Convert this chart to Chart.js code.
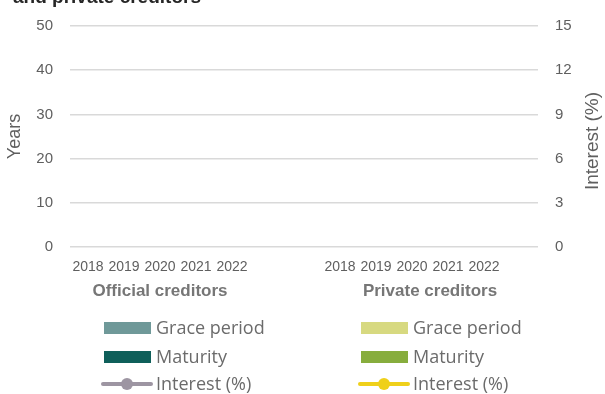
<!DOCTYPE html>
<html>
<head>
<meta charset="utf-8">
<script src="https://cdn.jsdelivr.net/npm/chart.js@4/dist/chart.umd.min.js"></script>
<style>
  html, body { margin: 0; padding: 0; background: #fff; }
  #wrap { position: relative; width: 605px; height: 394px; }
</style>
</head>
<body>
<div id="wrap"><canvas id="chart"></canvas></div>
<script>
// categories: two groups of years, blank slots keep the gap between them
const categories = ['2018', '2019', '2020', '2021', '2022', '', '', '2018', '2019', '2020', '2021', '2022', ''];
const groupNames = ['Official creditors', 'Private creditors'];
const groupSpans = [[0, 4], [7, 12]];

// nothing is plotted in the reference, so every value is empty
const officialGrace = [null, null, null, null, null];
const officialMaturity = [null, null, null, null, null];
const officialInterest = [null, null, null, null, null];
const privateGrace = [null, null, null, null, null];
const privateMaturity = [null, null, null, null, null];
const privateInterest = [null, null, null, null, null];

const yearTicks = [0, 10, 20, 30, 40, 50];
const interestTicks = [0, 3, 6, 9, 12, 15];

const titleText = 'and private creditors';
const leftAxisTitle = 'Years';
const rightAxisTitle = 'Interest (%)';

const gap = [null, null];
const tail = [null];
const blank5 = [null, null, null, null, null];
function official(arr) { return arr.concat(gap, blank5, tail); }
function privateSeries(arr) { return blank5.concat(gap, arr, tail); }

const textGray = '#5f5f5f';

// draws the cut-off title, group labels, right axis title and the two-column legend
const extrasPlugin = {
    id: 'extras',
    afterDraw(chart) {
        const ctx = chart.ctx;
        const x = chart.scales.x;
        ctx.save();

        ctx.fillStyle = '#262626';
        ctx.font = 'bold 19px "Liberation Sans", Arial, sans-serif';
        ctx.textAlign = 'left';
        ctx.textBaseline = 'alphabetic';
        ctx.fillText(titleText, 13, 3);

        ctx.fillStyle = '#767676';
        ctx.font = 'bold 17px "Liberation Sans", Arial, sans-serif';
        ctx.textAlign = 'center';
        ctx.textBaseline = 'middle';
        groupSpans.forEach(([a, b], i) => {
            const cx = (x.getPixelForValue(a) + x.getPixelForValue(b)) / 2;
            ctx.fillText(groupNames[i], cx, 291);
        });

        ctx.save();
        ctx.translate(593, 141);
        ctx.rotate(-Math.PI / 2);
        ctx.fillStyle = textGray;
        ctx.font = '19px "Liberation Sans", Arial, sans-serif';
        ctx.fillText(rightAxisTitle, 0, 0);
        ctx.restore();

        // legend
        const colX = [104, 361];
        const rowY = [328, 357, 384];
        ctx.font = '18px "Open Sans", sans-serif';
        ctx.textAlign = 'left';
        ctx.textBaseline = 'alphabetic';
        chart.data.datasets.forEach(ds => {
            const lx = colX[ds.group];
            const ly = rowY[ds.row];
            if (ds.type === 'line') {
                ctx.strokeStyle = ds.borderColor;
                ctx.lineWidth = 4;
                ctx.lineCap = 'round';
                ctx.beginPath();
                ctx.moveTo(lx - 1, ly);
                ctx.lineTo(lx + 47, ly);
                ctx.stroke();
                ctx.fillStyle = ds.borderColor;
                ctx.beginPath();
                ctx.arc(lx + 23, ly, 6, 0, Math.PI * 2);
                ctx.fill();
            } else {
                ctx.fillStyle = ds.backgroundColor;
                ctx.fillRect(lx, ly - 6, 47, 12);
            }
            ctx.fillStyle = '#6b6b6b';
            ctx.fillText(ds.label, lx + 52, ly + 6);
        });
        ctx.restore();
    }
};

const chart = new Chart(document.getElementById('chart'), {
    data: {
        labels: categories,
        datasets: [
            { type: 'bar', label: 'Grace period', data: official(officialGrace), backgroundColor: '#6f9999', group: 0, row: 0, yAxisID: 'y' },
            { type: 'bar', label: 'Maturity', data: official(officialMaturity), backgroundColor: '#0f5f5a', group: 0, row: 1, yAxisID: 'y' },
            { type: 'line', label: 'Interest (%)', data: official(officialInterest), borderColor: '#9d95a2', backgroundColor: '#9d95a2', borderWidth: 4, pointRadius: 6, group: 0, row: 2, yAxisID: 'y1' },
            { type: 'bar', label: 'Grace period', data: privateSeries(privateGrace), backgroundColor: '#d7d980', group: 1, row: 0, yAxisID: 'y' },
            { type: 'bar', label: 'Maturity', data: privateSeries(privateMaturity), backgroundColor: '#87ad3d', group: 1, row: 1, yAxisID: 'y' },
            { type: 'line', label: 'Interest (%)', data: privateSeries(privateInterest), borderColor: '#efd01a', backgroundColor: '#efd01a', borderWidth: 4, pointRadius: 6, group: 1, row: 2, yAxisID: 'y1' }
        ]
    },
    options: {
        responsive: true,
        maintainAspectRatio: false,
        animation: false,
        layout: { padding: { top: 22, left: 0, right: 0, bottom: 0 } },
        plugins: {
            legend: { display: false },
            tooltip: { enabled: false }
        },
        scales: {
            x: {
                grid: { display: false },
                border: { display: false },
                ticks: {
                    color: textGray,
                    font: { family: '"Liberation Sans", Arial, sans-serif', size: 14 },
                    padding: 4,
                    maxRotation: 0,
                    autoSkip: false
                },
                afterFit(scale) { scale.height = 147; }
            },
            y: {
                position: 'left',
                min: yearTicks[0],
                max: yearTicks[yearTicks.length - 1],
                afterBuildTicks(scale) { scale.ticks = yearTicks.map(v => ({ value: v })); },
                grid: { color: '#d9d9d9', lineWidth: 1.5, drawTicks: false },
                border: { display: false },
                ticks: {
                    color: textGray,
                    font: { family: '"Liberation Sans", Arial, sans-serif', size: 15 },
                    padding: 17
                },
                title: {
                    display: true,
                    text: leftAxisTitle,
                    color: textGray,
                    font: { family: '"Liberation Sans", Arial, sans-serif', size: 18 },
                    padding: { top: 4, bottom: 0 }
                },
                afterFit(scale) { scale.width = 70; }
            },
            y1: {
                position: 'right',
                min: interestTicks[0],
                max: interestTicks[interestTicks.length - 1],
                afterBuildTicks(scale) { scale.ticks = interestTicks.map(v => ({ value: v })); },
                grid: { display: false, drawTicks: false },
                border: { display: false },
                ticks: {
                    color: textGray,
                    font: { family: '"Liberation Sans", Arial, sans-serif', size: 15 },
                    padding: 17
                },
                afterFit(scale) { scale.width = 67; }
            }
        }
    },
    plugins: [extrasPlugin]
});
</script>
</body>
</html>
